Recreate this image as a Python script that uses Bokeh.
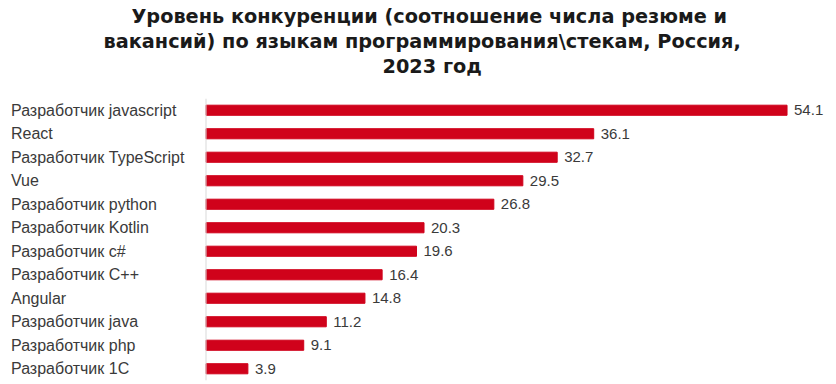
from bokeh.plotting import figure
from bokeh.models import ColumnDataSource, LabelSet, Span, Title, FactorRange
from bokeh.core.properties import value
from bokeh.embed import file_html
from bokeh.resources import INLINE

categories = ["Разработчик javascript", "React", "Разработчик TypeScript", "Vue",
              "Разработчик python", "Разработчик Kotlin", "Разработчик c#",
              "Разработчик C++", "Angular", "Разработчик java", "Разработчик php",
              "Разработчик 1C"]
values = [54.1, 36.1, 32.7, 29.5, 26.8, 20.3, 19.6, 16.4, 14.8, 11.2, 9.1, 3.9]
value_labels = [f"{v:.1f}" for v in values]
title_lines = ["Уровень конкуренции (соотношение числа резюме и",
               "вакансий) по языкам программирования\\стекам, Россия,",
               "2023 год"]
title_offsets = [131, 103, 382]

src = ColumnDataSource(dict(cat=categories, val=values, lab=value_labels,
                            zero=[0] * len(values)))

PX_PER_UNIT = 10.74
ZERO_X = 205.5
W, H = 836, 384
p = figure(width=W, height=H, title=None,
           y_range=FactorRange(factors=list(reversed(categories))),
           x_range=(-ZERO_X / PX_PER_UNIT, (W - ZERO_X) / PX_PER_UNIT),
           x_axis_location=None, y_axis_location=None,
           output_backend="svg", toolbar_location=None,
           min_border_left=0, min_border_right=0, min_border_bottom=4,
           min_border_top=98, outline_line_color=None,
           background_fill_color="white", border_fill_color="white")

p.hbar(y="cat", right="val", left=0, height=0.43, color="#d0021b", source=src)

p.add_layout(Span(location=0, dimension="height", line_color="#d9d9d9", line_width=1))

p.add_layout(LabelSet(x="val", y="cat", text="lab", source=src, x_offset=7,
                      text_baseline="middle", text_align="left",
                      text_font=value("Liberation Sans"), text_font_size="15px",
                      text_color="#3a3a3a"))
p.add_layout(LabelSet(x="zero", y="cat", text="cat", source=src, x_offset=-195,
                      text_baseline="middle", text_align="left",
                      text_font=value("Liberation Sans"), text_font_size="16px",
                      text_color="#3a3a3a"))

# spacer between the title block and the plot area
p.add_layout(Title(text=" ", text_font_size="17px", standoff=0), "above")
for line, off in zip(reversed(title_lines), reversed(title_offsets)):
    p.add_layout(Title(text=line, align="left", text_font="DejaVu Sans",
                       text_font_style="bold", text_font_size="19.3px",
                       text_color="#1a1a1a", offset=off, standoff=0), "above")

p.xgrid.visible = False
p.ygrid.visible = False

open("out.html", "w").write(file_html(p, INLINE))
